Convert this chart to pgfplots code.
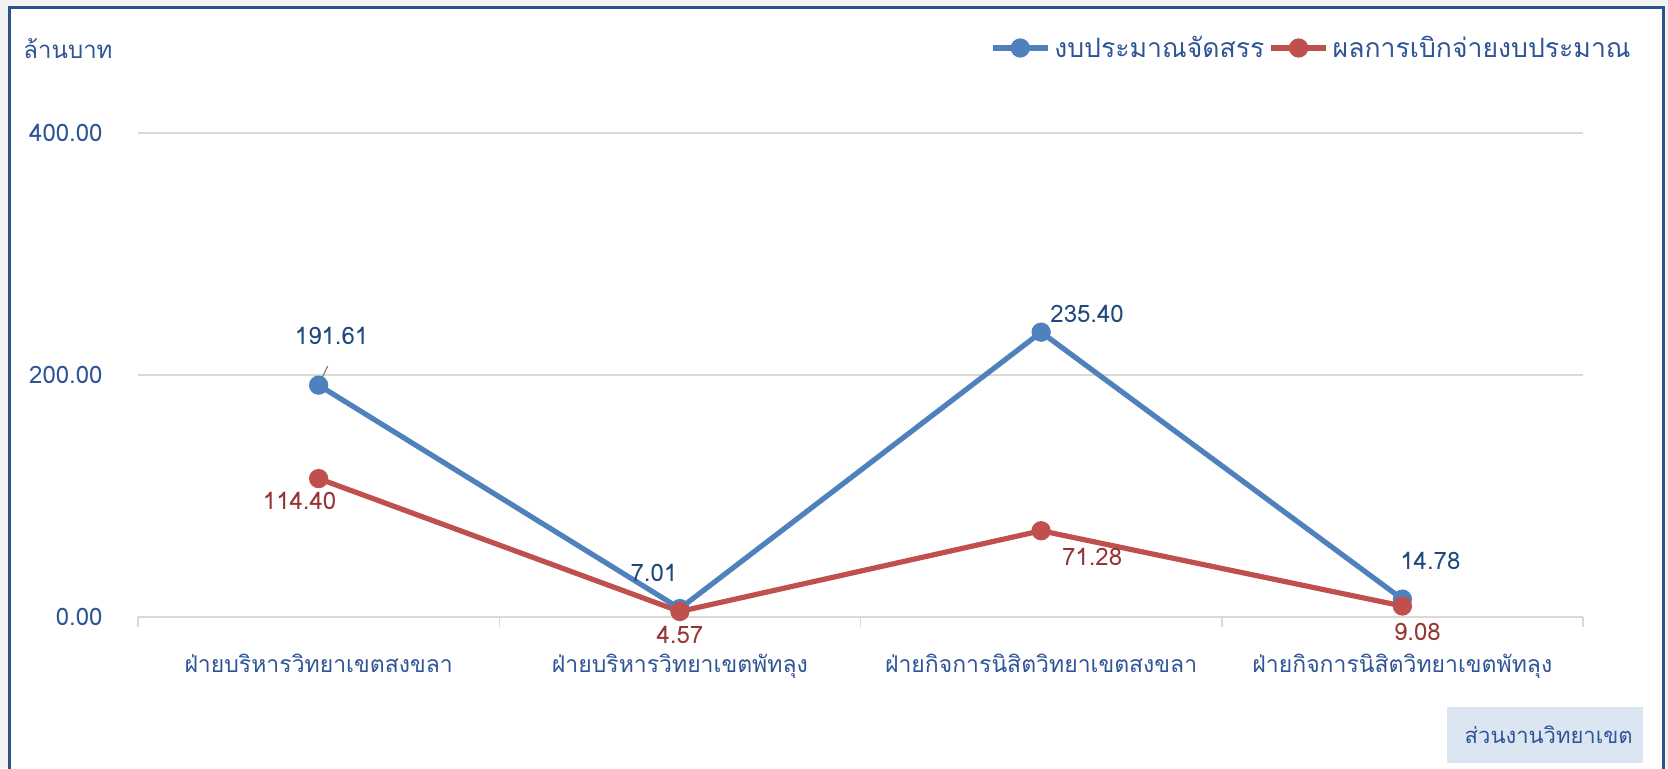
\documentclass[border=0pt]{standalone}
\usepackage{fontspec}
\setmainfont[Script=Thai]{Loma}
\usepackage{pgfplots}
\usepackage{pgfplotstable}
\pgfplotsset{compat=1.18}

\definecolor{framecol}{RGB}{47,82,143}
\definecolor{pagegray}{RGB}{242,242,242}
\definecolor{gridgray}{RGB}{217,217,217}
\definecolor{labelblue}{RGB}{47,85,151}
\definecolor{budgetline}{RGB}{79,129,189}
\definecolor{spentline}{RGB}{192,80,77}
\definecolor{budgettext}{RGB}{31,73,125}
\definecolor{spenttext}{RGB}{150,54,52}
\definecolor{boxfill}{RGB}{220,230,242}

% x = category position, dx/dy = label offset (pt)
\pgfplotstableread{
x   y      dx    dy
0.5 191.61 6.5   24.5
1.5 7.01   -13   17.75
2.5 235.40 23    9.3
3.5 14.78  14    19
}\budget
\pgfplotstableread{
x   y      dx    dy
0.5 114.40 -9.5  -11
1.5 4.57   0     -11.75
2.5 71.28  25.5  -13
3.5 9.08   7.5   -13
}\spent

\newcommand{\fnt}{\fontsize{12}{14}\selectfont}
\newcommand{\catfnt}{\fontsize{11.5}{13}\selectfont}
\newcommand{\boxfnt}{\fontsize{11}{13}\selectfont}
\newcommand{\legfnt}{\fontsize{13.3}{15}\selectfont}

\begin{document}
\begin{tikzpicture}
\begin{scope}[x=0.5pt,y=0.5pt]
\fill[pagegray] (0,0) rectangle (1668,768);
\fill[white] (9,760) rectangle (1663,-20);
\end{scope}

\begin{axis}[
    at={(69pt,75.5pt)}, anchor=south west,
    scale only axis,
    width=722.5pt, height=242pt,
    xmin=0, xmax=4, ymin=0, ymax=400,
    axis lines*=left,
    x axis line style={-, draw=gridgray, line width=0.75pt},
    y axis line style={draw=none},
    xtick={0.5,1.5,2.5,3.5},
    xticklabels={ฝ่ายบริหารวิทยาเขตสงขลา, ฝ่ายบริหารวิทยาเขตพัทลุง, ฝ่ายกิจการนิสิตวิทยาเขตสงขลา, ฝ่ายกิจการนิสิตวิทยาเขตพัทลุง},
    minor xtick={0,1,2,3,4},
    ytick={0,200,400},
    major tick length=0pt,
    minor tick length=5pt,
    tick align=outside,
    every tick/.style={draw=gridgray, line width=0.75pt},
    ymajorgrids,
    grid style={draw=gridgray, line width=0.75pt},
    tick label style={font=\fnt, text=labelblue},
    xticklabel style={font=\catfnt, anchor=base, inner sep=0pt, yshift=-27.5pt},
    yticklabel style={anchor=east, inner sep=0pt, xshift=-17.5pt},
    /pgf/number format/assume math mode=true,
    yticklabel={\pgfmathprintnumber[fixed,zerofill,precision=2]{\tick}},
    legend style={at={(rel axis cs:1,1)}, anchor=east, xshift=26pt, yshift=42.5pt,
        draw=none, fill=none, legend columns=2, font=\legfnt, text=labelblue,
        inner sep=0pt, /tikz/every even column/.append style={column sep=0pt}},
    legend image code/.code={\draw[mark repeat=2,mark phase=2,#1] plot coordinates {(0pt,0pt) (13.75pt,0pt) (27.5pt,0pt)};},
    nodes near coords={\pgfmathprintnumber[fixed,zerofill,precision=2,assume math mode=true]{\pgfplotspointmeta}},
    point meta=y,
    visualization depends on={\thisrow{dx}\as\dx},
    visualization depends on={\thisrow{dy}\as\dy},
    every node near coord/.append style={font=\fnt, anchor=center, inner sep=0pt, xshift=\dx pt, yshift=\dy pt},
    clip=false,
]
% leader line of the first label
\draw[gray, line width=0.6pt] (axis cs:0.5,191.61) -- ++(4.5pt,9.5pt);
\addplot[budgetline, line width=2.6pt, mark=*, mark size=3.5pt,
    nodes near coords style={text=budgettext}] table[x=x,y=y] {\budget};
\addlegendentry{งบประมาณจัดสรร}
\addplot[spentline, line width=2.6pt, mark=*, mark size=3.5pt,
    nodes near coords style={text=spenttext}] table[x=x,y=y] {\spent};
\addlegendentry{ผลการเบิกจ่ายงบประมาณ}
\end{axis}

\begin{scope}[x=0.5pt,y=0.5pt]
\draw[framecol, line width=1.5pt] (9,-20) -- (9,760) -- (1663,760) -- (1663,-20);
\node[anchor=west, inner sep=0pt, font=\fnt, text=labelblue] at (23,719) {ล้านบาท};
\fill[boxfill] (1447,5) rectangle (1643,61);
\node[anchor=base east, inner sep=0pt, font=\boxfnt, text=labelblue] at (1633,25) {ส่วนงานวิทยาเขต};
\end{scope}
\pgfresetboundingbox
\path[use as bounding box] (0pt,0pt) rectangle (834pt,384pt);
\end{tikzpicture}
\end{document}
